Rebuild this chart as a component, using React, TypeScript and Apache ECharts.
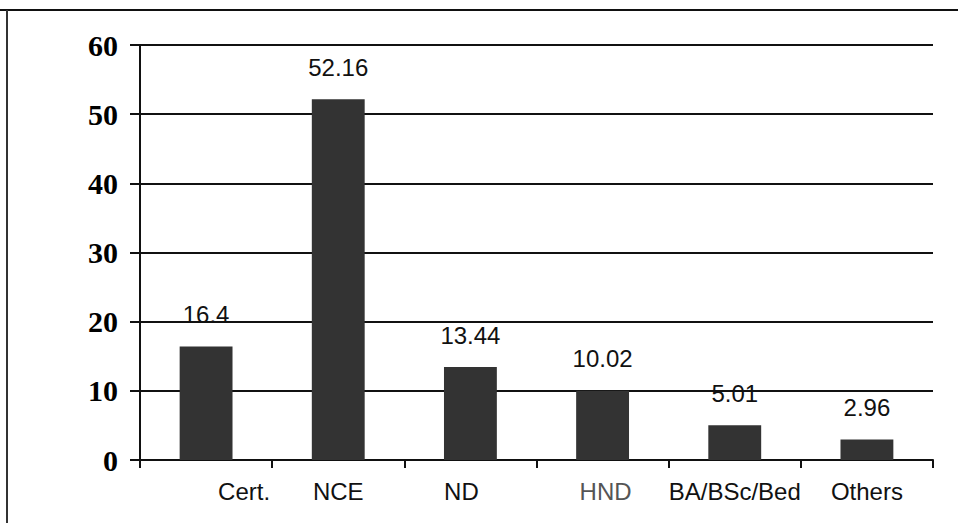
import React, { useEffect, useRef } from "react";
import * as echarts from "echarts";

const categories = ["Cert.", "NCE", "ND", "HND", "BA/BSc/Bed", "Others"];
const values = [16.4, 52.16, 13.44, 10.02, 5.01, 2.96];
const labelKeys = ["c", "d", "n", "h", "d", "d"];

export default function App() {
  const ref = useRef<HTMLDivElement>(null);
  useEffect(() => {
    if (!ref.current) return;
    const chart = echarts.init(ref.current, null, { renderer: "svg" });
    const base = { fontFamily: "Liberation Sans, Arial, sans-serif", fontSize: 24, color: "#111" };
    chart.setOption({
      animation: false,
      backgroundColor: "#fff",
      grid: { left: 140, right: 25, top: 45, bottom: 63, containLabel: false },
      graphic: [
        { type: "line", shape: { x1: 0, y1: 10, x2: 958, y2: 10 }, style: { stroke: "#111", lineWidth: 2 } },
        { type: "line", shape: { x1: 7, y1: 10, x2: 7, y2: 523 }, style: { stroke: "#333", lineWidth: 2 } },
      ],
      xAxis: {
        type: "category",
        data: categories,
        boundaryGap: true,
        axisLine: { lineStyle: { color: "#111", width: 2 } },
        axisTick: { show: true, length: 8, alignWithLabel: false, lineStyle: { color: "#111", width: 2 } },
        axisLabel: {
          ...base,
          margin: 19,
          interval: 0,
          formatter: (v: string) => {
            const i = categories.indexOf(v);
            return `{${labelKeys[i]}|${v}}`;
          },
          rich: {
            c: { ...base, padding: [0, 0, 0, 76] },
            n: { ...base, padding: [0, 18, 0, 0] },
            h: { ...base, color: "#555", padding: [0, 0, 0, 6] },
            d: { ...base },
          },
        },
      },
      yAxis: {
        type: "value",
        min: 0,
        max: 60,
        interval: 10,
        axisLine: { show: true, lineStyle: { color: "#111", width: 2 } },
        axisTick: { show: true, length: 10, lineStyle: { color: "#111", width: 2 } },
        splitLine: { show: true, lineStyle: { color: "#111", width: 2 } },
        axisLabel: {
          fontFamily: "Liberation Serif, Times New Roman, serif",
          fontWeight: "bold",
          fontSize: 30,
          color: "#000",
          margin: 22,
        },
      },
      series: [
        {
          type: "bar",
          data: values,
          barWidth: "40%",
          itemStyle: { color: "#333333" },
          label: {
            show: true,
            position: "top",
            distance: 20,
            ...base,
            formatter: (p: any) => String(p.value),
          },
        },
      ],
    });
    return () => chart.dispose();
  }, []);
  return <div ref={ref} style={{ position: "absolute", left: 0, top: 0, width: 958, height: 523 }} />;
}
